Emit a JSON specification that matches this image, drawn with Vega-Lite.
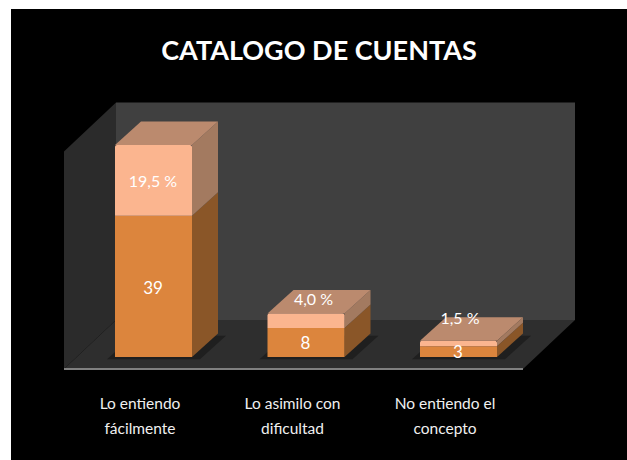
{
"$schema":"https://vega.github.io/schema/vega-lite/v6.json",
"width":616,"height":451,"autosize":"none",
"padding":{"left":11,"top":9,"right":0,"bottom":0},
"background":"#ffffff",
"config":{"view":{"fill":"#000000","stroke":null}},
"title":{"text":"CATALOGO DE CUENTAS","anchor":"middle","offset":-78,"baseline":"alphabetic","font":"Lato","fontWeight":"bold","fontSize":27,"color":"#ffffff"},
"datasets":{
"bars":[
{"category":["Lo entiendo","fácilmente"],"position":0,"count":39,"pct":19.5},
{"category":["Lo asimilo con","dificultad"],"position":1,"count":8,"pct":4.0},
{"category":["No entiendo el","concepto"],"position":2,"count":3,"pct":1.5}
],
"depth":[{"t":0},{"t":1}]
},
"layer":[
{"data":{"name":"depth"},"transform":[{"filter":"datum.t==0"},{"calculate":"105","as":"a"},{"calculate":"564","as":"b"},{"calculate":"10.21","as":"lo"},{"calculate":"70.21","as":"hi"}],
 "mark":{"type":"rect","fill":"#404040"},
 "encoding":{
 "x":{"field":"a","type":"quantitative","axis":null,"scale":{"domain":[0,616],"nice":false,"zero":false}},
 "x2":{"field":"b"},
 "y":{"field":"lo","type":"quantitative","axis":null,"scale":{"domain":[-28.42,96.03],"nice":false,"zero":false}},
 "y2":{"field":"hi"}}},
{"data":{"name":"depth"},"transform":[
 {"calculate":"53+52*datum.t","as":"x"},{"calculate":"-3.31+13.52*datum.t","as":"lo"},{"calculate":"datum.lo+60","as":"hi"}],
 "mark":{"type":"area","orient":"vertical","fill":"#2b2b2b"},
 "encoding":{"x":{"field":"x","type":"quantitative"},"y":{"field":"lo","type":"quantitative","stack":null},"y2":{"field":"hi"}}},
{"data":{"name":"depth"},"transform":[
 {"calculate":"53+52*datum.t","as":"xa"},{"calculate":"512+52*datum.t","as":"xb"},{"calculate":"-3.31+13.52*datum.t","as":"yy"}],
 "mark":{"type":"area","orient":"horizontal","fill":"#2e2e2e"},
 "encoding":{"y":{"field":"yy","type":"quantitative"},"x":{"field":"xa","type":"quantitative","stack":null},"x2":{"field":"xb"}}},
{"data":{"name":"depth"},"transform":[{"calculate":"53+459*datum.t","as":"xa"},{"calculate":"-3.31","as":"yy"}],
 "mark":{"type":"line","color":"#808080","strokeWidth":2},
 "encoding":{"x":{"field":"xa","type":"quantitative"},"y":{"field":"yy","type":"quantitative"}}},
{"data":{"name":"bars"},"transform":[
 {"calculate":"[0,1]","as":"ts"},{"flatten":["ts"]},
 {"calculate":"104+152.5*datum.position-8+datum.ts*26","as":"a"},{"calculate":"104+152.5*datum.position+85+datum.ts*26","as":"b"},{"calculate":"-0.6+datum.ts*6.48","as":"c"}],
 "mark":{"type":"area","orient":"horizontal","fill":"#1f1f1f"},
 "encoding":{"detail":{"field":"position","type":"nominal"},"y":{"field":"c","type":"quantitative"},"x":{"field":"a","type":"quantitative","stack":null},"x2":{"field":"b"}}},
{"data":{"name":"bars"},"transform":[
 {"calculate":"[0,1]","as":"ts"},{"flatten":["ts"]},
 {"calculate":"104+152.5*datum.position+77+datum.ts*26","as":"a"},{"calculate":"datum.ts*6.48","as":"lo"},{"calculate":"datum.count+datum.ts*6.48","as":"hi"}],
 "mark":{"type":"area","orient":"vertical","fill":"#8a5628"},
 "encoding":{"detail":{"field":"position","type":"nominal"},"x":{"field":"a","type":"quantitative"},"y":{"field":"lo","type":"quantitative","stack":null},"y2":{"field":"hi"}}},
{"data":{"name":"bars"},"transform":[
 {"calculate":"[0,1]","as":"ts"},{"flatten":["ts"]},
 {"calculate":"104+152.5*datum.position+77+datum.ts*26","as":"a"},{"calculate":"datum.count+datum.ts*6.48","as":"lo"},{"calculate":"datum.count+datum.pct+datum.ts*6.48","as":"hi"}],
 "mark":{"type":"area","orient":"vertical","fill":"#a37a60"},
 "encoding":{"detail":{"field":"position","type":"nominal"},"x":{"field":"a","type":"quantitative"},"y":{"field":"lo","type":"quantitative","stack":null},"y2":{"field":"hi"}}},
{"data":{"name":"bars"},"transform":[
 {"calculate":"[0,1]","as":"ts"},{"flatten":["ts"]},
 {"calculate":"104+152.5*datum.position+datum.ts*26","as":"a"},{"calculate":"104+152.5*datum.position+77+datum.ts*26","as":"b"},{"calculate":"datum.count+datum.pct+datum.ts*6.48","as":"c"}],
 "mark":{"type":"area","orient":"horizontal","fill":"#bb8a6e"},
 "encoding":{"detail":{"field":"position","type":"nominal"},"y":{"field":"c","type":"quantitative"},"x":{"field":"a","type":"quantitative","stack":null},"x2":{"field":"b"}}},
{"data":{"name":"bars"},"transform":[{"calculate":"104+152.5*datum.position","as":"xf"},{"calculate":"datum.xf+77","as":"xr"},{"calculate":"0","as":"base"}],
 "mark":{"type":"rect","fill":"#dc853d"},
 "encoding":{"x":{"field":"xf","type":"quantitative"},"x2":{"field":"xr"},"y":{"field":"base","type":"quantitative"},"y2":{"field":"count"}}},
{"data":{"name":"bars"},"transform":[{"calculate":"104+152.5*datum.position","as":"xf"},{"calculate":"datum.xf+77","as":"xr"},{"calculate":"datum.count+datum.pct","as":"total"}],
 "mark":{"type":"rect","fill":"#fbb58f","cornerRadiusTopLeft":2,"cornerRadiusTopRight":2},
 "encoding":{"x":{"field":"xf","type":"quantitative"},"x2":{"field":"xr"},"y":{"field":"count","type":"quantitative"},"y2":{"field":"total"}}},
{"data":{"name":"bars"},"transform":[{"calculate":"104+152.5*datum.position+38","as":"a"},{"calculate":"datum.position==0?18.8:datum.position==1?3.6:1.2","as":"c"}],
 "mark":{"type":"text","font":"Lato","fontSize":17,"color":"#ffffff","baseline":"middle","align":"center"},
 "encoding":{"x":{"field":"a","type":"quantitative"},"y":{"field":"c","type":"quantitative"},"text":{"field":"count","type":"quantitative"}}},
{"data":{"name":"bars"},"transform":[{"calculate":"104+152.5*datum.position","as":"xf"},{"calculate":"datum.position==0?datum.xf+38:datum.position==1?datum.xf+46:datum.xf+40","as":"a"},{"calculate":"datum.position==0?48.3:datum.position==1?15.6:10.5","as":"c"},{"calculate":"replace(format(datum.pct,'.1f'),'.',',')+' %'","as":"lab"}],
 "mark":{"type":"text","font":"Lato","fontSize":16,"color":"#ffffff","baseline":"middle","align":"center"},
 "encoding":{"x":{"field":"a","type":"quantitative"},"y":{"field":"c","type":"quantitative"},"text":{"field":"lab","type":"nominal"}}},
{"data":{"name":"bars"},"transform":[{"calculate":"104+152.5*datum.position+25","as":"a"},{"calculate":"-12.9","as":"c"}],
 "mark":{"type":"text","font":"Lato","fontSize":15.5,"color":"#f0f0f0","baseline":"middle","align":"center","lineHeight":25},
 "encoding":{"x":{"field":"a","type":"quantitative"},"y":{"field":"c","type":"quantitative"},"text":{"field":"category","type":"nominal"}}}
]
}
